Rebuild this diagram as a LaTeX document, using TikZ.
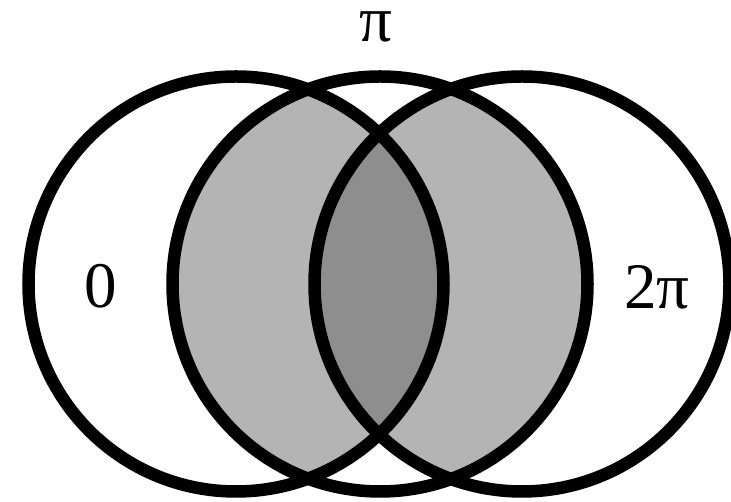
\documentclass[tikz,border=0pt]{standalone}
\usepackage{fontspec}
\setmainfont{Liberation Serif}
\usepackage{tikz}
\usetikzlibrary{positioning}
\definecolor{vnLight}{HTML}{B4B4B4}
\definecolor{vnDark}{HTML}{8E8E8E}
\tikzset{
  ring/.style={draw=black, line width=12.5pt},
  lens/.style={fill=vnLight},
  core/.style={fill=vnDark},
  phase/.style={inner sep=0pt, font=\fontsize{65}{70}\selectfont}
}

\begin{document}
\begin{tikzpicture}[x=1pt,y=1pt]
  \useasboundingbox (0,0) rectangle (731,502);
  \coordinate (cl) at (236,218);
  \coordinate (cm) at (380,218);
  \coordinate (cr) at (522,218);
  % shaded overlaps with the middle circle
  \begin{scope}
    \clip (cm) circle[radius=207.5];
    \fill[lens] (cl) circle[radius=207.5];
    \fill[lens] (cr) circle[radius=207.5];
  \end{scope}
  \begin{scope}
    \clip (cm) circle[radius=207.5];
    \clip (cl) circle[radius=207.5];
    \fill[core] (cr) circle[radius=207.5];
  \end{scope}
  \draw[ring] (cl) circle[radius=207.5];
  \draw[ring] (cm) circle[radius=207.5];
  \draw[ring] (cr) circle[radius=207.5];
  \node[phase] (zero) at (101,216) {0};
  \node[phase] (pi) at (376,475) {π};
  \node[phase] (twopi) at (657,215) {2π};
\end{tikzpicture}
\end{document}
